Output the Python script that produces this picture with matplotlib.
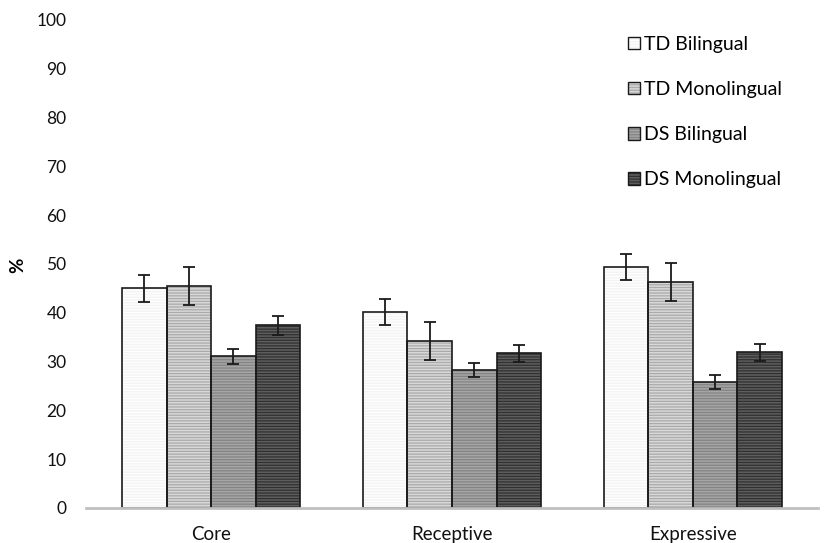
import numpy as np
import matplotlib
matplotlib.use("Agg")
import matplotlib.pyplot as plt
from matplotlib.patches import Patch
from matplotlib.legend_handler import HandlerTuple

plt.rcParams['font.family'] = ['Lato', 'DejaVu Sans']
plt.rcParams['hatch.linewidth'] = 0.9

categories = ["Core", "Receptive", "Expressive"]
groups = ["TD Bilingual", "TD Monolingual", "DS Bilingual", "DS Monolingual"]
td_bilingual = [45.0, 40.1, 49.4]
td_monolingual = [45.5, 34.2, 46.3]
ds_bilingual = [31.1, 28.3, 25.8]
ds_monolingual = [37.4, 31.7, 31.9]
td_bilingual_err = [2.7, 2.7, 2.7]
td_monolingual_err = [3.9, 3.9, 3.9]
ds_bilingual_err = [1.5, 1.5, 1.5]
ds_monolingual_err = [1.85, 1.8, 1.8]

values = [td_bilingual, td_monolingual, ds_bilingual, ds_monolingual]
errors = [td_bilingual_err, td_monolingual_err, ds_bilingual_err, ds_monolingual_err]
faces = ["#f4f4f4", "#d8d8d8", "#a6a6a6", "#5e5e5e"]
stripes = ["#ffffff", "#aaaaaa", "#838383", "#303030"]

fig = plt.figure(figsize=(8.32, 5.43), dpi=100)
ax = fig.add_axes([86 / 832, 35 / 543, 732 / 832, 488 / 543])

x = np.arange(len(categories))
w = 0.185
legend_handles = []
for i, (vals, errs) in enumerate(zip(values, errors)):
    pos = x + (i - 1.5) * w
    ax.bar(pos, vals, w, color=faces[i], edgecolor=stripes[i], linewidth=0,
           hatch="------", zorder=2)
    ax.bar(pos, vals, w, facecolor="none", edgecolor="#1a1a1a", linewidth=1.2,
           zorder=3)
    ax.errorbar(pos, vals, yerr=errs, fmt="none", ecolor="#1a1a1a",
                elinewidth=1.3, capsize=4.5, capthick=1.3, zorder=4)
    h1 = Patch(facecolor=faces[i], edgecolor=stripes[i], linewidth=0, hatch="------")
    h2 = Patch(facecolor="none", edgecolor="#1a1a1a", linewidth=1.0)
    legend_handles.append((h1, h2))

ax.set_xlim(-0.52, 2.52)
ax.set_ylim(0, 100)
ax.set_yticks(range(0, 101, 10))
ax.set_xticks(x)
ax.set_xticklabels(categories)
ax.tick_params(axis="both", length=0, colors="#111111")
ax.tick_params(axis="y", pad=14, labelsize=12.5)
ax.tick_params(axis="x", pad=13, labelsize=13.5)
for s in ["top", "right", "left"]:
    ax.spines[s].set_visible(False)
ax.spines["bottom"].set_color("#c0c0c0")
ax.spines["bottom"].set_linewidth(2)
ax.spines["bottom"].set_zorder(5)

fig.text(18 / 832, 1 - 265 / 543, "%", rotation=90, fontsize=13.5,
         fontweight="bold", ha="center", va="center")

leg = fig.legend(legend_handles, groups, loc="upper left",
                 bbox_to_anchor=(620 / 832, 1 - 28 / 543),
                 handler_map={tuple: HandlerTuple(ndivide=1)},
                 frameon=False, fontsize=14, handlelength=0.62,
                 handleheight=0.62, handletextpad=0.22, labelspacing=1.45,
                 borderaxespad=0)

fig.savefig("out.png", dpi=100)
